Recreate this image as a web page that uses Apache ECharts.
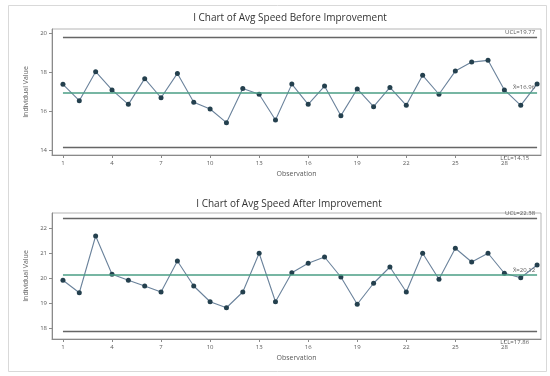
<!DOCTYPE html>
<html>
<head>
<meta charset="utf-8">
<script src="https://cdn.jsdelivr.net/npm/echarts@6/dist/echarts.min.js"></script>
<style>
  html, body { margin: 0; padding: 0; background: #ffffff; }
  #chart { width: 550px; height: 376px; }
</style>
</head>
<body>
<div id="chart"></div>
<script>
// Observation numbers 1..30 shared by both I charts
const observations = [1,2,3,4,5,6,7,8,9,10,11,12,13,14,15,16,17,18,19,20,21,22,23,24,25,26,27,28,29,30];
const xTicks = [1, 4, 7, 10, 13, 16, 19, 22, 25, 28];

// Average speed per observation, before the improvement
const speedBefore = [17.37, 16.53, 18.02, 17.08, 16.34, 17.66, 16.68, 17.93, 16.45, 16.10,
                     15.40, 17.16, 16.86, 15.54, 17.38, 16.34, 17.28, 15.76, 17.13, 16.22,
                     17.21, 16.29, 17.83, 16.86, 18.05, 18.51, 18.60, 17.08, 16.29, 17.38];
const limitsBefore = { ucl: 19.77, cl: 16.96, lcl: 14.15 };
const yTicksBefore = [14, 16, 18, 20];

// Average speed per observation, after the improvement
const speedAfter = [19.91, 19.41, 21.68, 20.15, 19.91, 19.68, 19.44, 20.68, 19.68, 19.05,
                    18.81, 19.44, 20.99, 19.05, 20.21, 20.59, 20.84, 20.04, 18.95, 19.79,
                    20.44, 19.44, 20.99, 19.95, 21.19, 20.64, 20.99, 20.19, 20.01, 20.52];
const limitsAfter = { ucl: 22.38, cl: 20.12, lcl: 17.86 };
const yTicksAfter = [18, 19, 20, 21, 22];

const titles = ['I Chart of Avg Speed Before Improvement', 'I Chart of Avg Speed After Improvement'];

const FONT = '"Open Sans", "Liberation Sans", sans-serif';
const AXIS_GRAY = '#8a8a8a';
const LABEL_GRAY = '#5a5a5a';
const LIMIT_COLOR = '#666666';
const CENTER_COLOR = '#4a9e84';
const DATA_LINE = '#6a829b';
const DATA_MARK = '#24404e';

const first = observations[0];
const last = observations[observations.length - 1];

function xAxisFor(gridIndex) {
  return {
    type: 'value', gridIndex, min: 0.33, max: 30.24,
    name: 'Observation', nameLocation: 'middle', nameGap: 15,
    nameTextStyle: { fontSize: 7, color: LABEL_GRAY, fontFamily: FONT },
    axisLine: { show: true, lineStyle: { color: AXIS_GRAY } },
    axisTick: { show: true, length: 3, customValues: xTicks, lineStyle: { color: AXIS_GRAY } },
    axisLabel: { customValues: xTicks, fontSize: 6, color: LABEL_GRAY, margin: 5, fontFamily: FONT },
    splitLine: { show: false }
  };
}

function yAxisFor(gridIndex, min, max, ticks) {
  return {
    type: 'value', gridIndex, min, max,
    name: 'Individual Value', nameLocation: 'middle', nameGap: 21,
    nameTextStyle: { fontSize: 7, color: LABEL_GRAY, fontFamily: FONT },
    axisLine: { show: true, lineStyle: { color: AXIS_GRAY } },
    axisTick: { show: true, length: 3, customValues: ticks, lineStyle: { color: AXIS_GRAY } },
    axisLabel: { customValues: ticks, fontSize: 6, color: LABEL_GRAY, margin: 5, fontFamily: FONT },
    splitLine: { show: false }
  };
}

function limitLine(value, color, width, text, pos, dist) {
  return [
    { coord: [first, value], lineStyle: { color, width, type: 'solid' },
      label: { show: !!text, formatter: text, position: pos, distance: dist,
               fontSize: 6, color: LABEL_GRAY, fontFamily: FONT } },
    { coord: [last, value] }
  ];
}

function seriesFor(idx, values, lim) {
  return {
    type: 'line', xAxisIndex: idx, yAxisIndex: idx,
    data: observations.map((o, i) => [o, values[i]]),
    symbol: 'circle', symbolSize: 5,
    lineStyle: { color: DATA_LINE, width: 1.1 },
    itemStyle: { color: DATA_MARK },
    silent: true, animation: false, z: 3,
    markLine: {
      symbol: 'none', silent: true, animation: false,
      data: [
        limitLine(lim.ucl, LIMIT_COLOR, 1.3, 'UCL=' + lim.ucl.toFixed(2), 'insideEndTop', 2),
        limitLine(lim.cl, CENTER_COLOR, 1.5, 'X\u0304=' + lim.cl.toFixed(2), 'insideEndTop', 2),
        limitLine(lim.lcl, LIMIT_COLOR, 1.3, 'LCL=' + lim.lcl.toFixed(2), 'insideEndBottom', 8)
      ]
    }
  };
}

const chart = echarts.init(document.getElementById('chart'), null, { renderer: 'canvas' });
chart.setOption({
  backgroundColor: '#ffffff',
  animation: false,
  title: [
    { text: titles[0], left: 285, top: 8, textAlign: 'center',
      textStyle: { fontSize: 10, fontWeight: 'normal', color: '#333', fontFamily: FONT } },
    { text: titles[1], left: 284, top: 194, textAlign: 'center',
      textStyle: { fontSize: 10, fontWeight: 'normal', color: '#333', fontFamily: FONT } }
  ],
  graphic: [
    { type: 'rect', shape: { x: 8.5, y: 5.5, width: 538, height: 366 },
      style: { fill: 'none', stroke: '#d9d9d9', lineWidth: 1 }, silent: true, z: -1 }
  ],
  grid: [
    { left: 52, top: 29, width: 489, height: 126, show: true, borderColor: '#b5b5b5', borderWidth: 1, backgroundColor: 'transparent' },
    { left: 52, top: 213, width: 489, height: 126, show: true, borderColor: '#b5b5b5', borderWidth: 1, backgroundColor: 'transparent' }
  ],
  xAxis: [xAxisFor(0), xAxisFor(1)],
  yAxis: [
    yAxisFor(0, 13.74, 20.21, yTicksBefore),
    yAxisFor(1, 17.56, 22.6, yTicksAfter)
  ],
  series: [
    seriesFor(0, speedBefore, limitsBefore),
    seriesFor(1, speedAfter, limitsAfter)
  ]
});
</script>
</body>
</html>
